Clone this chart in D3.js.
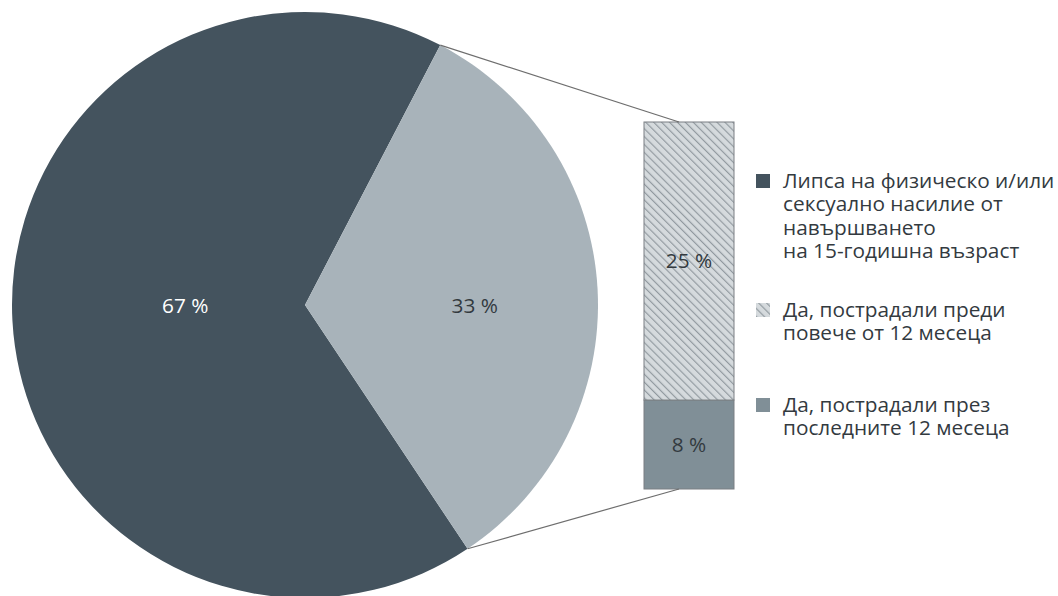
<!DOCTYPE html>
<html>
<head>
<meta charset="utf-8">
<script src="https://cdn.jsdelivr.net/npm/d3@7"></script>
<style>
  body { margin: 0; background: #fff; }
  text { font-family: "Open Sans", "Noto Sans", sans-serif; }
</style>
</head>
<body>
<script>
// Pie of the whole, with the 33 % slice broken out into a stacked bar.

var pieKeys = ['none', 'yes'],
    pieValues = [67, 33],
    pieLabels = ['67 %', '33 %'];

var barKeys = ['recent', 'earlier'],
    barValues = [8, 25],
    barLabels = ['8 %', '25 %'];

var legendKeys = ['none', 'earlier', 'recent'],
    legendLines = [
      ['Липса на физическо и/или', 'сексуално насилие от', 'навършването', 'на 15-годишна възраст'],
      ['Да, пострадали преди', 'повече от 12 месеца'],
      ['Да, пострадали през', 'последните 12 месеца']
    ];

var width = 1058,
    height = 596,
    cx = 305,
    cy = 305,
    radius = 293,
    barX = 644,
    barW = 90,
    barTop = 122,
    barBottom = 489,
    fontSize = 20.8;

var fills = {
  none: '#44535e',
  yes: '#a8b3ba',
  recent: '#808f97',
  earlier: 'url(#hatch)'
};

var svg = d3.select('body').append('svg')
    .attr('width', width)
    .attr('height', height);

// Diagonal hatch for the "earlier" part.
var pattern = svg.append('defs').append('pattern')
    .attr('id', 'hatch')
    .attr('patternUnits', 'userSpaceOnUse')
    .attr('width', 5.6)
    .attr('height', 5.6)
    .attr('patternTransform', 'rotate(-45)');
pattern.append('rect')
    .attr('width', 5.6).attr('height', 5.6)
    .attr('fill', '#d5dadd');
pattern.append('line')
    .attr('x1', 0.6).attr('y1', 0).attr('x2', 0.6).attr('y2', 5.6)
    .attr('stroke', '#8d969c')
    .attr('stroke-width', 1.1);

// Pie, turned so the light slice faces the bar.
var start = 146.3 * Math.PI / 180;
var pie = d3.pie().sort(null)
    .startAngle(start)
    .endAngle(start + 2 * Math.PI);
var arcs = pie(pieValues);
var arc = d3.arc().innerRadius(0).outerRadius(radius);

var g = svg.append('g').attr('transform', 'translate(' + cx + ',' + cy + ')');

g.selectAll('path')
    .data(arcs)
  .enter().append('path')
    .attr('d', arc)
    .attr('fill', function (d, i) { return fills[pieKeys[i]]; });

var labelRadius = [120, 170];
g.selectAll('text')
    .data(arcs)
  .enter().append('text')
    .attr('x', function (d, i) {
      var a = (d.startAngle + d.endAngle) / 2;
      return labelRadius[i] * Math.sin(a);
    })
    .attr('y', 8)
    .attr('text-anchor', 'middle')
    .attr('font-size', fontSize)
    .attr('fill', function (d, i) { return i === 0 ? '#ffffff' : '#333a3f'; })
    .text(function (d, i) { return pieLabels[i]; });

// Stacked bar for the 33 %.
var y = d3.scaleLinear()
    .domain([0, d3.sum(barValues)])
    .range([barBottom, barTop]);

var stack = [], acc = 0;
barValues.forEach(function (v, i) {
  stack.push({ key: barKeys[i], y0: acc, y1: acc + v, label: barLabels[i] });
  acc += v;
});

var bar = svg.append('g');
bar.selectAll('rect')
    .data(stack)
  .enter().append('rect')
    .attr('x', barX)
    .attr('y', function (d) { return y(d.y1); })
    .attr('width', barW)
    .attr('height', function (d) { return y(d.y0) - y(d.y1); })
    .attr('fill', function (d) { return fills[d.key]; })
    .attr('stroke', '#7a7f83')
    .attr('stroke-width', 1);

bar.selectAll('text')
    .data(stack)
  .enter().append('text')
    .attr('x', barX + barW / 2)
    .attr('y', function (d) { return (y(d.y0) + y(d.y1)) / 2 + 7; })
    .attr('text-anchor', 'middle')
    .attr('font-size', fontSize)
    .attr('fill', '#333a3f')
    .text(function (d) { return d.label; });

// Connector lines from the slice edges to the bar.
var light = arcs[1];
var ends = [
  [light.startAngle, barTop],
  [light.endAngle, barBottom]
];
svg.selectAll('line.connector')
    .data(ends)
  .enter().append('line')
    .attr('class', 'connector')
    .attr('x1', function (d) { return cx + radius * Math.sin(d[0]); })
    .attr('y1', function (d) { return cy - radius * Math.cos(d[0]); })
    .attr('x2', barX + 35)
    .attr('y2', function (d) { return d[1]; })
    .attr('stroke', '#6e6e6e')
    .attr('stroke-width', 1.2);

// Legend
var legendTop = [188, 317, 412];
var legend = svg.selectAll('g.legend')
    .data(legendKeys)
  .enter().append('g')
    .attr('class', 'legend')
    .attr('transform', function (d, i) { return 'translate(756,' + legendTop[i] + ')'; });

legend.append('rect')
    .attr('x', 0)
    .attr('y', -14)
    .attr('width', 14)
    .attr('height', 14)
    .attr('fill', function (d) { return fills[d]; });

legend.append('text')
    .attr('x', 27)
    .attr('y', 0)
    .attr('font-size', fontSize)
    .attr('fill', '#333a3f')
    .selectAll('tspan')
    .data(function (d, i) { return legendLines[i]; })
  .enter().append('tspan')
    .attr('x', 27)
    .attr('dy', function (d, i) { return i === 0 ? 0 : 23.3; })
    .text(function (d) { return d; });
</script>
</body>
</html>
